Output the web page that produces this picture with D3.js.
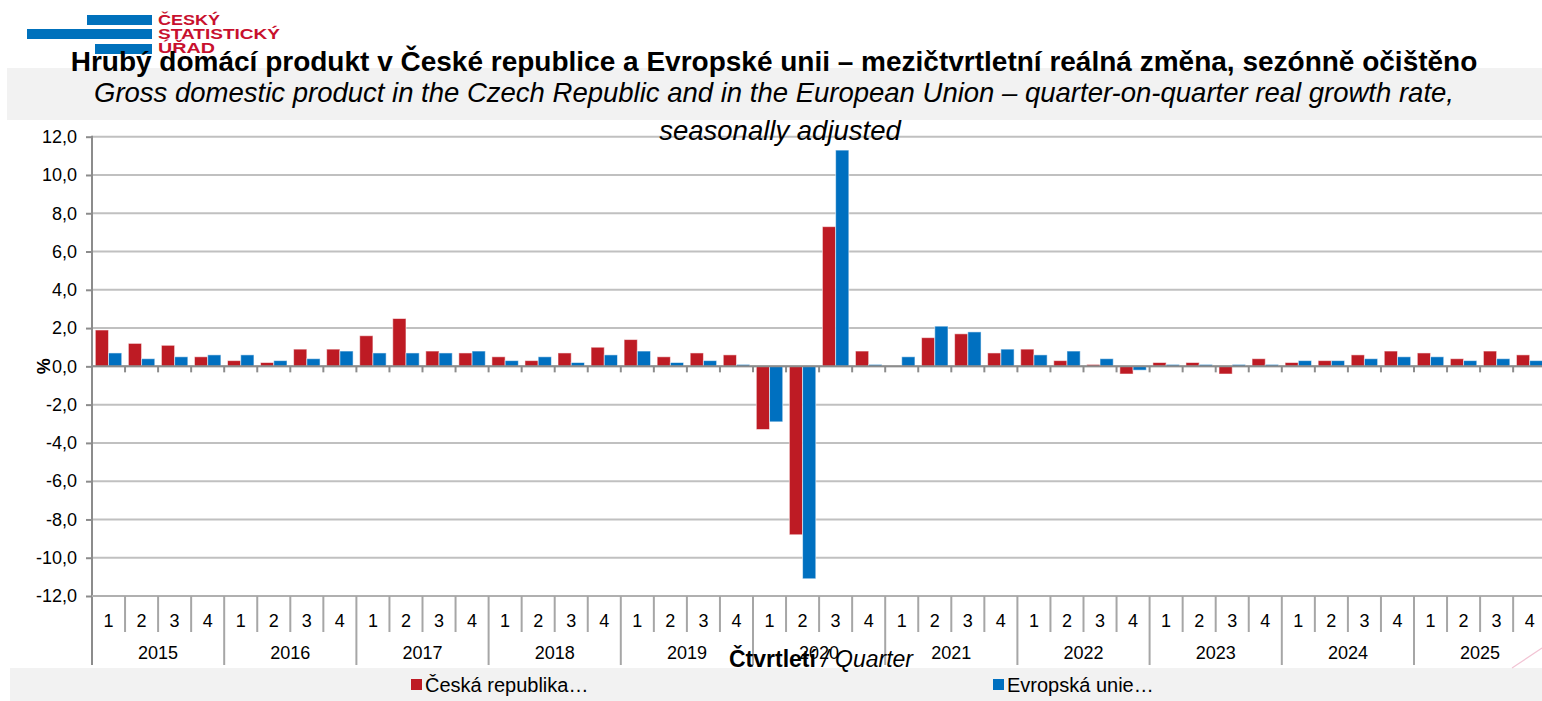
<!DOCTYPE html>
<html>
<head>
<meta charset="utf-8">
<script src="https://cdn.jsdelivr.net/npm/d3@7"></script>
<style>
  body { margin: 0; background: #fff; }
  svg { display: block; font-family: Arial, "Liberation Sans", sans-serif; }
</style>
</head>
<body>
<svg id="chart" width="1542" height="701"></svg>
<script>
// data (quarters 2015Q1 .. 2025Q4)
var years = ['2015','2016','2017','2018','2019','2020','2021','2022','2023','2024','2025'];
var quarters = ['1','2','3','4'];
var czValues = [1.9,1.2,1.1,0.5, 0.3,0.2,0.9,0.9, 1.6,2.5,0.8,0.7, 0.5,0.3,0.7,1.0,
                1.4,0.5,0.7,0.6, -3.3,-8.8,7.3,0.8, 0.0,1.5,1.7,0.7, 0.9,0.3,0.1,-0.4,
                0.2,0.2,-0.4,0.4, 0.2,0.3,0.6,0.8, 0.7,0.4,0.8,0.6];
var euValues = [0.7,0.4,0.5,0.6, 0.6,0.3,0.4,0.8, 0.7,0.7,0.7,0.8, 0.3,0.5,0.2,0.6,
                0.8,0.2,0.3,0.1, -2.9,-11.1,11.3,0.1, 0.5,2.1,1.8,0.9, 0.6,0.8,0.4,-0.2,
                0.1,0.1,0.1,0.1, 0.3,0.3,0.4,0.5, 0.5,0.3,0.4,0.3];
var yTicks = [-12,-10,-8,-6,-4,-2,0,2,4,6,8,10,12];
var seriesNames = ['Česká republika…', 'Evropská unie…'];
var colors = ['#BE1B24', '#0070C0'];

var svg = d3.select('#chart');

// rows for bars
var rows = [];
years.forEach(function(y, yi) {
  quarters.forEach(function(q, qi) {
    var i = yi * 4 + qi;
    rows.push({ i: i, year: y, q: q, cz: czValues[i], eu: euValues[i] });
  });
});

var left = 92, step = 33.05;
var x = d3.scaleBand()
  .domain(rows.map(function(d) { return d.i; }))
  .range([left, left + rows.length * step])
  .paddingInner(0.2)
  .paddingOuter(0.1);
var x1 = d3.scaleBand().domain(['cz','eu']).range([0, x.bandwidth()]);
var y = d3.scaleLinear().domain([-12, 12]).range([596, 136.7]);

// grey bands
svg.append('rect').attr('x', 7).attr('y', 68).attr('width', 1535).attr('height', 52).attr('fill', '#f2f2f2');
svg.append('rect').attr('x', 10).attr('y', 668).attr('width', 1532).attr('height', 33).attr('fill', '#f2f2f2');

// gridlines
svg.append('g').selectAll('line').data(yTicks).join('line')
  .attr('x1', left).attr('x2', 1542)
  .attr('y1', function(d) { return y(d); }).attr('y2', function(d) { return y(d); })
  .attr('stroke', '#c0c0c0').attr('stroke-width', 2);

// logo
var logo = svg.append('g');
logo.append('rect').attr('x', 87).attr('y', 15).attr('width', 65).attr('height', 10).attr('fill', '#0071BC');
logo.append('rect').attr('x', 27).attr('y', 29).attr('width', 125).attr('height', 10).attr('fill', '#0071BC');
logo.append('rect').attr('x', 95).attr('y', 44).attr('width', 57).attr('height', 10).attr('fill', '#0071BC');
[['ČESKÝ', 25, 62], ['STATISTICKÝ', 39, 122], ['ÚŘAD', 53, 57]].forEach(function(t) {
  logo.append('text').attr('x', 158).attr('y', t[1])
    .attr('textLength', t[2]).attr('lengthAdjust', 'spacingAndGlyphs')
    .style('font-size', '14px').style('font-weight', 'bold').attr('fill', '#C8102E')
    .text(t[0]);
});

// titles
svg.append('text').attr('x', 774).attr('y', 71).attr('text-anchor', 'middle')
  .style('font-size', '28px').style('font-weight', 'bold')
  .text('Hrubý domácí produkt v České republice a Evropské unii – mezičtvrtletní reálná změna, sezónně očištěno');
svg.append('text').attr('x', 774).attr('y', 102).attr('text-anchor', 'middle')
  .style('font-size', '27.5px').style('font-style', 'italic')
  .text('Gross domestic product in the Czech Republic and in the European Union – quarter-on-quarter real growth rate,');
svg.append('text').attr('x', 780).attr('y', 140).attr('text-anchor', 'middle')
  .style('font-size', '27.5px').style('font-style', 'italic')
  .text('seasonally adjusted');

// bars
var groups = svg.append('g').selectAll('g').data(rows).join('g')
  .attr('transform', function(d) { return 'translate(' + x(d.i) + ',0)'; });
groups.selectAll('rect').data(function(d) { return [{k: 'cz', v: d.cz}, {k: 'eu', v: d.eu}]; }).join('rect')
  .attr('x', function(d) { return x1(d.k); })
  .attr('width', x1.bandwidth())
  .attr('y', function(d) { return y(Math.max(0, d.v)); })
  .attr('height', function(d) { return Math.abs(y(d.v) - y(0)); })
  .attr('fill', function(d) { return d.k === 'cz' ? colors[0] : colors[1]; })
  .attr('stroke', 'rgba(255,255,255,0.55)').attr('stroke-width', 1);

// y axis
var yAxis = svg.append('g').attr('transform', 'translate(' + left + ',0)')
  .call(d3.axisLeft(y).tickValues(yTicks).tickSize(6).tickPadding(9)
    .tickFormat(function(d) { return d.toFixed(1).replace('.', ','); }));
yAxis.select('.domain').remove();
yAxis.selectAll('line').attr('stroke', '#8c8c8c').attr('stroke-width', 2);
yAxis.selectAll('text').style('font-size', '18px').attr('fill', '#000').style('font-family', 'Arial, "Liberation Sans", sans-serif');
svg.append('line').attr('x1', left).attr('x2', left).attr('y1', y(12) - 1).attr('y2', 665)
  .attr('stroke', '#8c8c8c').attr('stroke-width', 2);

svg.append('text').attr('transform', 'translate(50,' + y(0) + ') rotate(-90)')
  .attr('text-anchor', 'middle').style('font-size', '18px').style('font-weight', 'bold').text('%');

// zero axis with quarter ticks
svg.append('line').attr('x1', left).attr('x2', 1542).attr('y1', y(0)).attr('y2', y(0))
  .attr('stroke', '#8c8c8c').attr('stroke-width', 2);
var bounds = d3.range(1, rows.length).map(function(i) { return left + i * step; });
svg.append('g').selectAll('line').data(bounds).join('line')
  .attr('x1', function(d) { return d; }).attr('x2', function(d) { return d; })
  .attr('y1', y(0)).attr('y2', y(0) + 6)
  .attr('stroke', '#8c8c8c').attr('stroke-width', 2);

// category axis (quarter / year)
svg.append('line').attr('x1', left).attr('x2', 1542).attr('y1', 596).attr('y2', 596)
  .attr('stroke', '#b0b0b0').attr('stroke-width', 2);
svg.append('g').selectAll('line').data(bounds).join('line')
  .attr('x1', function(d) { return d; }).attr('x2', function(d) { return d; })
  .attr('y1', 596).attr('y2', function(d, i) { return (i + 1) % 4 === 0 ? 665 : 632; })
  .attr('stroke', '#a6a6a6').attr('stroke-width', 2);
svg.append('g').selectAll('text').data(rows).join('text')
  .attr('x', function(d) { return left + (d.i + 0.5) * step; }).attr('y', 627)
  .attr('text-anchor', 'middle').style('font-size', '18px').text(function(d) { return d.q; });
svg.append('g').selectAll('text').data(years).join('text')
  .attr('x', function(d, i) { return left + (i * 4 + 2) * step; }).attr('y', 659)
  .attr('text-anchor', 'middle').style('font-size', '18px').text(function(d) { return d; });

var xt = svg.append('text').attr('x', 821).attr('y', 667).attr('text-anchor', 'middle').style('font-size', '23px');
xt.append('tspan').style('font-weight', 'bold').text('Čtvrtletí');
xt.append('tspan').style('font-style', 'italic').text(' / Quarter');

// decoration line bottom right
svg.append('line').attr('x1', 1512).attr('y1', 668).attr('x2', 1542).attr('y2', 648)
  .attr('stroke', '#f2c4d4').attr('stroke-width', 1.2);

// legend
var legend = svg.append('g').selectAll('g').data(seriesNames).join('g')
  .attr('transform', function(d, i) { return 'translate(' + [411, 993][i] + ',679)'; });
legend.append('rect').attr('width', 11).attr('height', 11).attr('fill', function(d, i) { return colors[i]; });
legend.append('text').attr('x', 14).attr('y', 12.5).style('font-size', '20px').text(function(d) { return d; });
</script>
</body>
</html>
